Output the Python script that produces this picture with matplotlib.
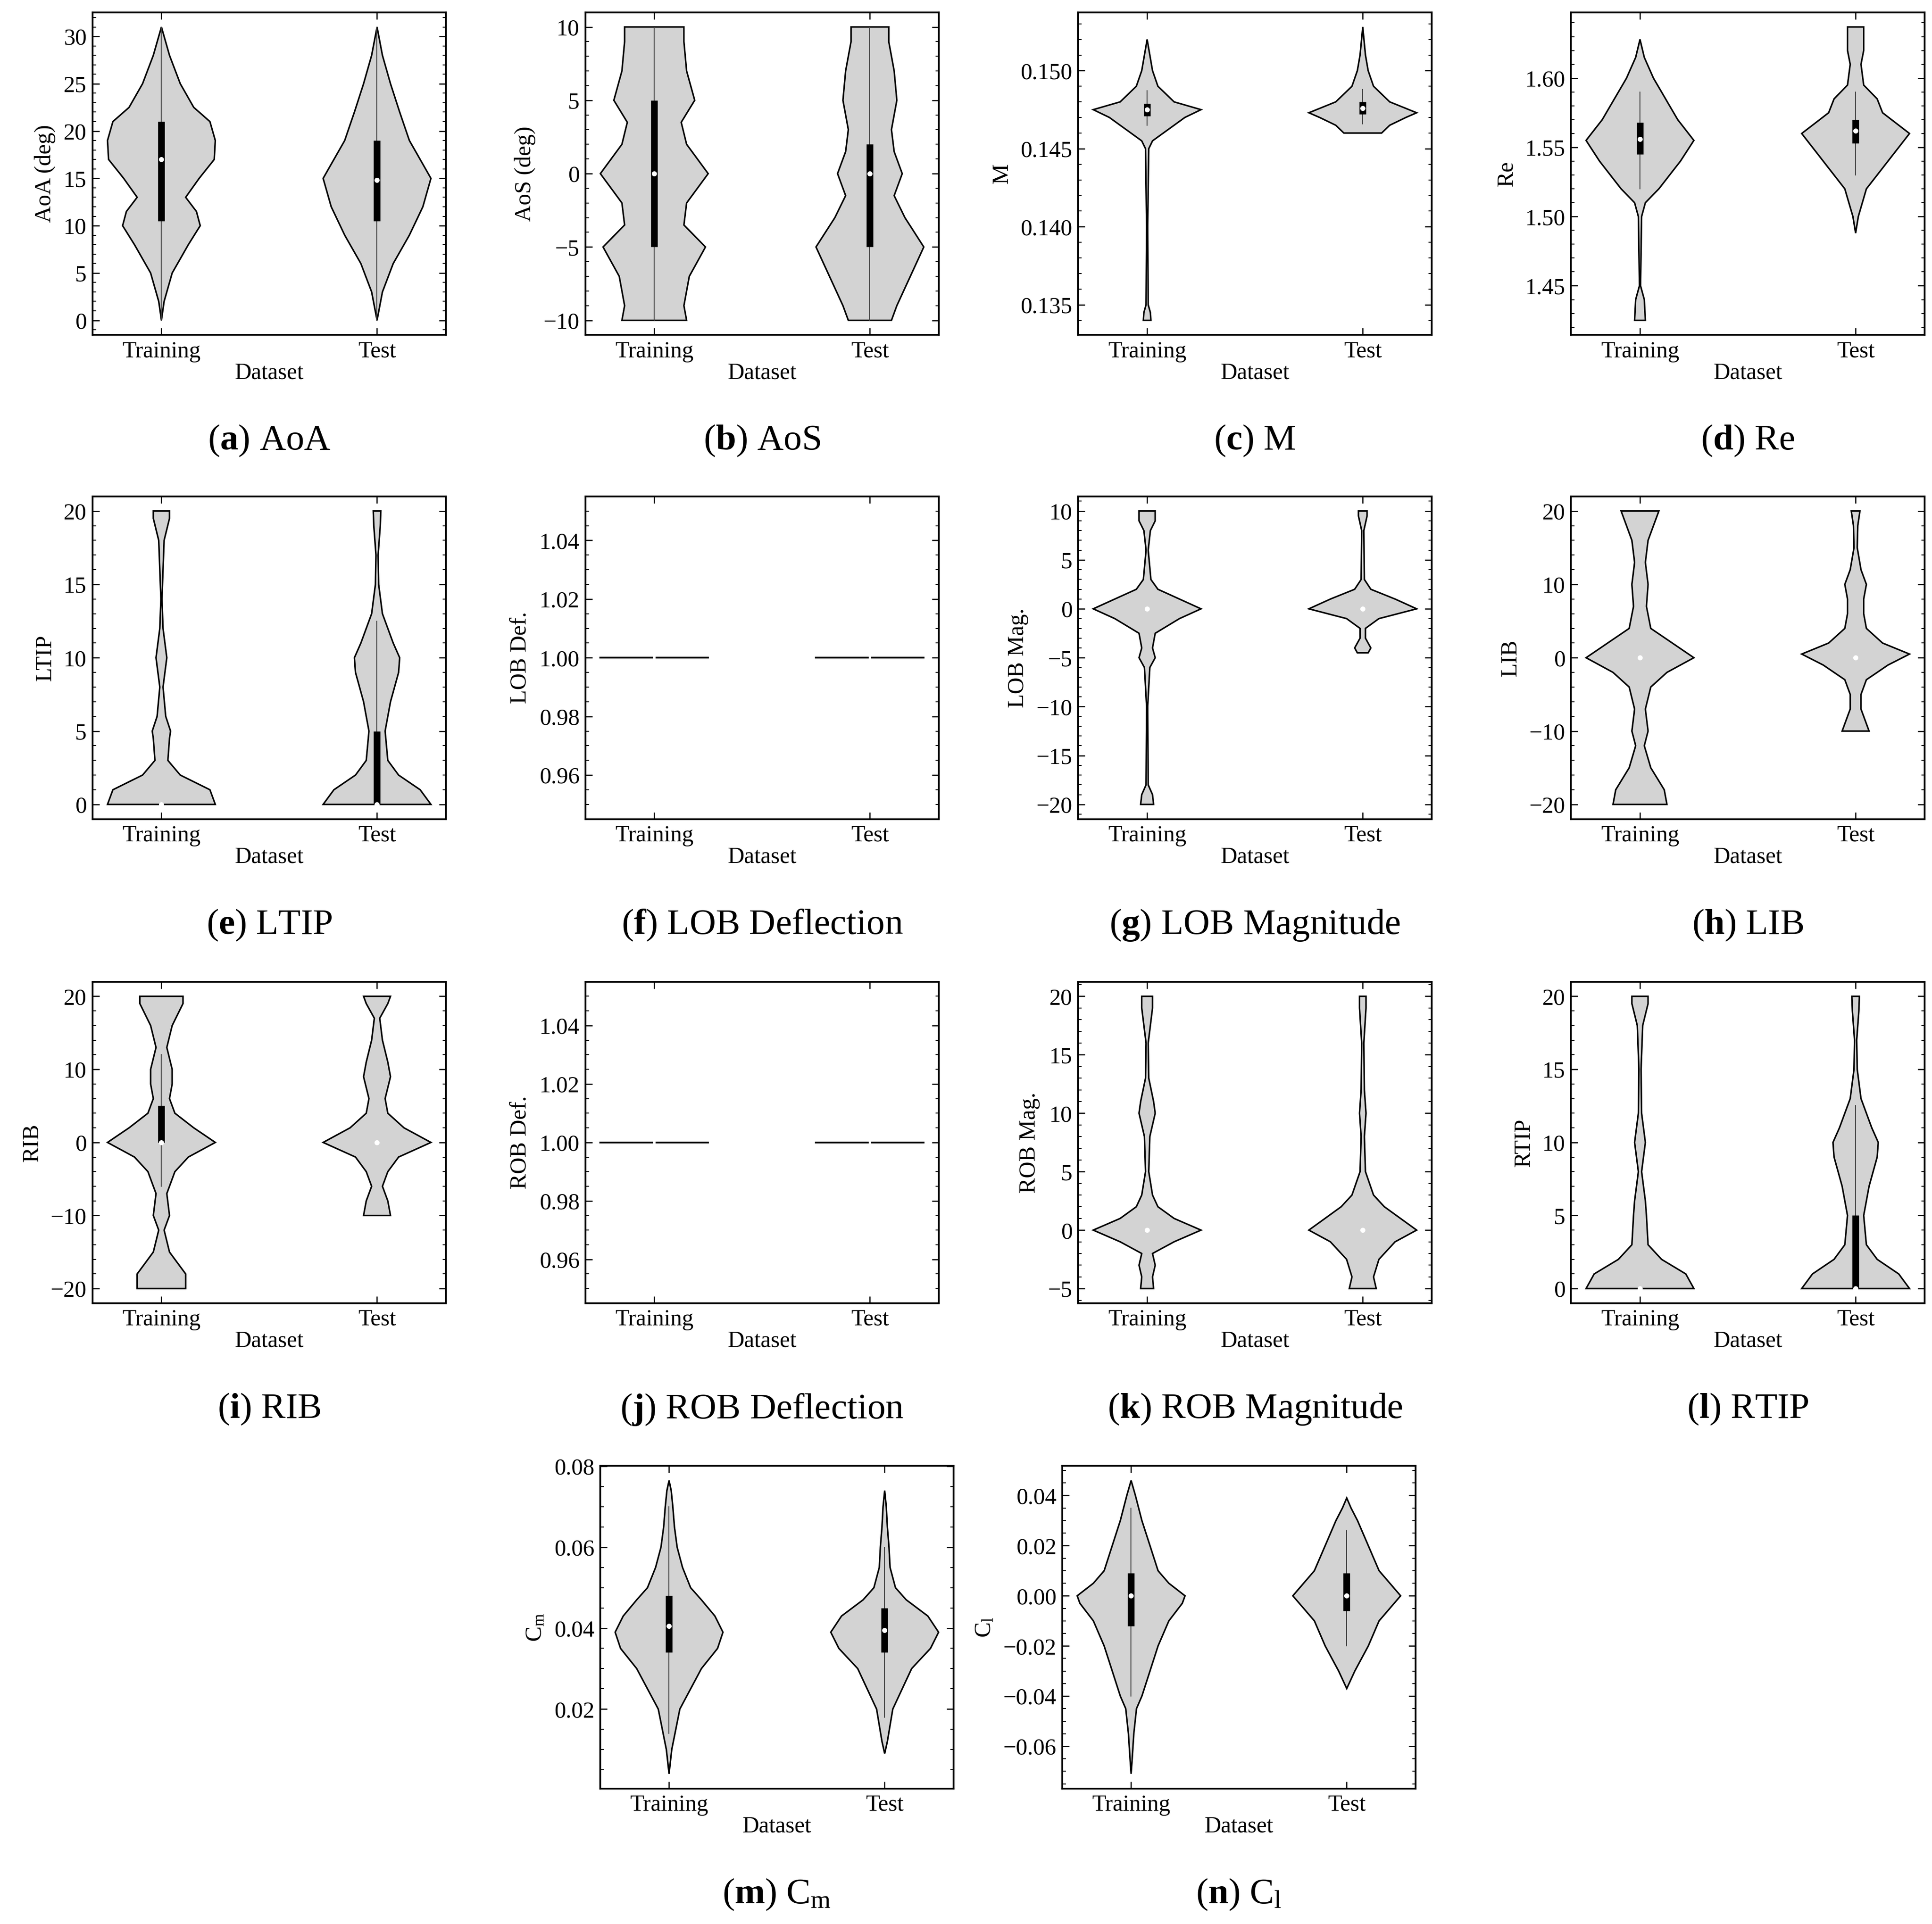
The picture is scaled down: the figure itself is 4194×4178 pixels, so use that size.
import matplotlib
matplotlib.use("Agg")
import matplotlib.pyplot as plt
from matplotlib.ticker import AutoMinorLocator, MultipleLocator

plt.rcParams.update({
    "font.family": ["Liberation Serif", "DejaVu Serif"],
    "mathtext.fontset": "custom",
    "mathtext.rm": "Liberation Serif",
    "mathtext.it": "Liberation Serif:italic",
    "mathtext.bf": "Liberation Serif:bold",
    "font.size": 12,
})

categories = ["Training", "Test"]

# Each violin: (density profile ys, relative half-widths, box q1, q3, median, whisker lo, hi)
panels = [
 ("a", "AoA", "AoA (deg)",
  [([0,2,5,8,10,11.5,13,15,17,19,21,22.5,25,28,31],[0,.05,.2,.5,.72,.65,.45,.7,.98,1.0,.9,.6,.35,.15,0],10.5,21,17,0,31),
   ([0,3,6,9,12,15,17,19,22,25,28,31],[0,.1,.3,.6,.85,1.0,.8,.6,.42,.25,.1,0],10.5,19,14.8,0,31)]),
 ("b", "AoS", "AoS (deg)",
  [([-10,-9,-7,-5,-3.5,-2,0,2,3.5,5,7,9,10],[.6,.55,.65,.95,.55,.6,1.0,.6,.5,.75,.6,.55,.55],-5,5,0,-10,10),
   ([-10,-9,-7,-5,-3,-1.5,0,1.5,3,5,7,9,10],[.4,.5,.75,1.0,.65,.45,.6,.45,.4,.5,.45,.35,.35],-5,2,0,-10,10)]),
 ("c", "M", "M",
  [([.134,.1345,.135,.140,.145,.1455,.146,.147,.1475,.148,.149,.150,.151,.152],[.07,.06,.02,.01,.03,.1,.3,.7,1.0,.5,.2,.1,.05,0],.1471,.1479,.1475,.1465,.1487),
   ([.146,.1465,.147,.1473,.148,.149,.150,.151,.1528],[.35,.5,.8,1.0,.5,.2,.1,.05,0],.1472,.1480,.1476,.1466,.1488)]),
 ("d", "Re", "Re",
  [([1.425,1.44,1.45,1.50,1.51,1.52,1.54,1.555,1.57,1.59,1.60,1.615,1.628],[.1,.08,.01,.03,.1,.35,.75,1.0,.7,.4,.25,.08,0],1.545,1.568,1.556,1.52,1.59),
   ([1.488,1.50,1.52,1.54,1.56,1.575,1.585,1.595,1.61,1.62,1.637],[0,.05,.2,.6,1.0,.5,.4,.15,.1,.15,.15],1.553,1.57,1.562,1.53,1.59)]),
 ("e", "LTIP", "LTIP",
  [([0,1,2,3,4.5,5,6,8,10,12,14,18,19.5,20],[1.0,.9,.35,.12,.15,.17,.08,.03,.1,.03,.01,.05,.15,.15],0,0,0,0,0),
   ([0,1,2,3,5,7,9,10,11,13,15,17,19,20],[1.0,.8,.4,.2,.15,.25,.4,.42,.3,.1,.03,.02,.06,.07],0,5,0,0,12.5)]),
 ("f", "LOB Deflection", "LOB Def.", None),
 ("g", "LOB Magnitude", "LOB Mag.",
  [([-20,-19,-18,-10,-6,-5,-4,-2.5,-1,0,1,2,3,6,8,9,10],[.12,.1,.02,.01,.05,.15,.1,.15,.6,1.0,.6,.2,.07,.02,.06,.15,.15],0,0,0,0,0),
   ([-4.5,-4,-3,-2,-1,0,1,2,3,8,9.5,10],[.1,.15,.05,.05,.3,1.0,.6,.15,.03,.02,.08,.08],0,0,0,0,0)]),
 ("h", "LIB", "LIB",
  [([-20,-18,-15,-12,-10,-7,-4,-2,0,2,4,7,10,13,16,19,20],[.5,.45,.2,.08,.15,.1,.2,.5,1.0,.6,.2,.12,.15,.1,.15,.3,.35],0,0,0,0,0),
   ([-10,-9,-7,-5,-3,-1,.5,2,4,6,8,10,12,15,18,20],[.25,.2,.1,.1,.2,.6,1.0,.5,.2,.15,.15,.2,.1,.03,.04,.08],0,0,0,0,0)]),
 ("i", "RIB", "RIB",
  [([-20,-18,-15,-12,-10,-7,-4,-2,0,2,4,6,8,10,13,16,19,20],[.45,.45,.15,.05,.15,.1,.25,.5,1.0,.6,.25,.15,.2,.2,.1,.2,.4,.4],0,5,0,-6,12),
   ([-10,-8,-6,-4,-2,0,2,4,6,9,11,14,17,19,20],[.25,.2,.1,.2,.4,1.0,.5,.2,.15,.25,.2,.1,.05,.2,.25],0,0,0,0,0)]),
 ("j", "ROB Deflection", "ROB Def.", None),
 ("k", "ROB Magnitude", "ROB Mag.",
  [([-5,-4,-3,-2,-1,0,1,2,3,5,8,10,11,13,16,19,20],[.12,.1,.15,.1,.5,1.0,.5,.2,.1,.03,.05,.15,.12,.03,.02,.1,.1],0,0,0,0,0),
   ([-5,-4,-2.5,-1,0,1,2,3,5,8,10,12,16,19,20],[.25,.2,.3,.6,1.0,.7,.4,.2,.05,.03,.06,.03,.02,.06,.06],0,0,0,0,0)]),
 ("l", "RTIP", "RTIP",
  [([0,1,2,3,5,6,8,10,12,15,18,19.5,20],[1.0,.85,.4,.15,.12,.1,.03,.1,.03,.02,.05,.15,.15],0,0,0,0,0),
   ([0,1,2,3,5,7,9,10,11,13,15,17,19,20],[1.0,.8,.4,.2,.15,.25,.4,.42,.3,.1,.03,.02,.06,.07],0,5,0,0,12.5)]),
 ("m", r"C$_\mathrm{m}$", r"C$_\mathrm{m}$",
  [([.004,.01,.02,.03,.035,.039,.043,.047,.05,.055,.06,.065,.07,.074,.0765],[0,.05,.2,.6,.9,1.0,.85,.6,.4,.25,.15,.1,.07,.04,0],.034,.048,.0405,.014,.07),
   ([.009,.012,.02,.03,.035,.039,.043,.047,.05,.055,.06,.065,.07,.074],[0,.05,.15,.5,.85,1.0,.8,.4,.2,.1,.08,.05,.03,0],.034,.045,.0395,.018,.06)]),
 ("n", r"C$_\mathrm{l}$", r"C$_\mathrm{l}$",
  [([-.071,-.065,-.055,-.045,-.04,-.03,-.02,-.01,-.003,0,.005,.01,.02,.03,.04,.046],[0,.02,.05,.1,.2,.35,.5,.7,.95,1.0,.7,.5,.35,.2,.08,0],-.012,.009,0,-.04,.035),
   ([-.037,-.03,-.02,-.01,0,.01,.02,.03,.035,.039],[0,.15,.4,.6,1.0,.6,.4,.2,.08,0],-.006,.009,0,-.02,.026)]),
]
constant_value = [1.0, 1.0]
major_steps = {"m": 0.02}

W, H = 1568.0, 1562.0
fig = plt.figure(figsize=(13.98, 13.927), dpi=300)
colx = [75, 475, 875, 1275]
rowy = [(10, 272), (403, 665), (797, 1058)]
pos_list = []
for r in range(3):
    for c in range(4):
        pos_list.append((colx[c], rowy[r]))
pos_list.append((487, (1190, 1452)))
pos_list.append((862, (1190, 1452)))
AW = 287
HALF = 0.25

for (letter, cap, ylab, violins), (x0, (yt, yb)) in zip(panels, pos_list):
    ax = fig.add_axes([x0 / W, 1 - yb / H, AW / W, (yb - yt) / H])
    if violins is None:
        for i, v in enumerate(constant_value):
            ax.plot([i - HALF, i - 0.01], [v, v], color="k", lw=0.9)
            ax.plot([i + 0.01, i + HALF], [v, v], color="k", lw=0.9)
    else:
        for i, (ys, ws, q1, q3, med, wlo, whi) in enumerate(violins):
            xs = [i + w * HALF for w in ws] + [i - w * HALF for w in ws[::-1]]
            yy = list(ys) + list(ys[::-1])
            ax.fill(xs, yy, facecolor="#d3d3d3", edgecolor="k", lw=0.8, zorder=1)
            if whi > wlo:
                ax.plot([i, i], [wlo, whi], color="#444444", lw=0.5, zorder=2)
            if q3 > q1:
                ax.plot([i, i], [q1, q3], color="k", lw=3.5, solid_capstyle="butt", zorder=3)
            ax.scatter([i], [med], s=7, color="white", zorder=4, lw=0)
    ax.set_xlim(-0.32, 1.32)
    ax.set_xticks([0, 1])
    ax.set_xticklabels(categories)
    ax.set_xlabel("Dataset", labelpad=0)
    ax.set_ylabel(ylab)
    if letter in major_steps:
        ax.yaxis.set_major_locator(MultipleLocator(major_steps[letter]))
    ax.yaxis.set_minor_locator(AutoMinorLocator())
    ax.tick_params(which="both", direction="in", top=True, right=True)
    ax.tick_params(axis="x", which="minor", bottom=False, top=False)
    ax.tick_params(which="major", length=3.5, width=0.6, pad=3)
    ax.tick_params(which="minor", length=1.8, width=0.5)
    for s in ax.spines.values():
        s.set_linewidth(0.9)
    fig.text((x0 + AW / 2) / W, 1 - (yb + 86) / H, rf"($\mathbf{{{letter}}}$) " + cap,
             ha="center", va="center", fontsize=19)

fig.savefig("out.png", dpi=300)
